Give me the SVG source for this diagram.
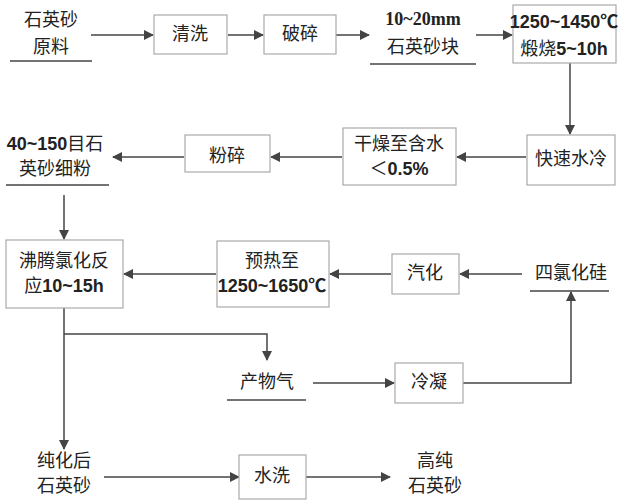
<svg xmlns="http://www.w3.org/2000/svg" width="633" height="500" viewBox="0 0 633 500">
<defs>
<marker id="a" markerWidth="10" markerHeight="10" refX="9" refY="5" orient="auto" markerUnits="userSpaceOnUse"><path d="M0,0 L10,5 L0,10 Z" fill="#444"/></marker>
<style>
.b{fill:#fff;stroke:#aaa;stroke-width:1.2}
.u{stroke:#444;stroke-width:1.5}
.c{fill:none;stroke:#444;stroke-width:1.5}
.arr{marker-end:url(#a)}
text{font-family:"Noto Sans CJK SC","Liberation Sans",sans-serif;font-size:18px;fill:#222;text-anchor:middle;dominant-baseline:middle}
.bd{font-family:"Liberation Sans","Noto Sans CJK SC",sans-serif;font-weight:bold}
</style>
</defs>
<rect width="633" height="500" fill="#fff"/>
<g id="connectors">
<line class="c arr" x1="91" y1="35" x2="153" y2="35"/>
<line class="c arr" x1="228" y1="35" x2="263" y2="35"/>
<line class="c arr" x1="336" y1="35" x2="369" y2="35"/>
<line class="c arr" x1="476" y1="35" x2="512" y2="35"/>
<line class="c arr" x1="570" y1="63" x2="570" y2="134"/>
<line class="c arr" x1="526" y1="157" x2="457" y2="157"/>
<line class="c arr" x1="342" y1="157" x2="271" y2="157"/>
<line class="c arr" x1="184" y1="157" x2="113" y2="157"/>
<line class="c arr" x1="64" y1="195" x2="64" y2="239"/>
<line class="c arr" x1="216" y1="274" x2="124" y2="274"/>
<line class="c arr" x1="391" y1="274" x2="330" y2="274"/>
<line class="c arr" x1="522" y1="274" x2="460" y2="274"/>
<line class="c arr" x1="64" y1="308" x2="64" y2="449"/>
<polyline class="c arr" points="64,334 267,334 267,360"/>
<line class="c arr" x1="313" y1="383" x2="394" y2="383"/>
<polyline class="c arr" points="463,383 571,383 571,292"/>
<line class="c arr" x1="104" y1="477" x2="239" y2="477"/>
<line class="c arr" x1="306" y1="477" x2="390" y2="477"/>
</g>
<g id="n1"><text x="51" y="21">石英砂</text><text x="51" y="48">原料</text><line class="u" x1="10" y1="61" x2="92" y2="61"/></g>
<g id="n2"><rect class="b" x="154" y="15" width="73" height="39"/><text x="190" y="35">清洗</text></g>
<g id="n3"><rect class="b" x="264" y="15" width="72" height="39"/><text x="300" y="35">破碎</text></g>
<g id="n4"><text x="423" y="21" class="bd" style="font-family:'Liberation Serif',serif">10~20mm</text><text x="423" y="48">石英砂块</text><line class="u" x1="370" y1="64" x2="476" y2="64"/></g>
<g id="n5"><rect class="b" x="513" y="5" width="103" height="58"/><text x="564" y="23" class="bd" font-size="17">1250~1450℃</text><text x="564" y="50">煅烧<tspan class="bd">5~10h</tspan></text></g>
<g id="n6"><rect class="b" x="527" y="135" width="88" height="50"/><text x="571" y="160">快速水冷</text></g>
<g id="n7"><rect class="b" x="343" y="128" width="113" height="57"/><text x="399" y="145">干燥至含水</text><text x="399" y="170">＜<tspan class="bd">0.5%</tspan></text></g>
<g id="n8"><rect class="b" x="185" y="135" width="85" height="37"/><text x="227" y="157">粉碎</text></g>
<g id="n9"><text x="55" y="145"><tspan class="bd">40~150</tspan>目石</text><text x="55" y="170">英砂细粉</text><line class="u" x1="6" y1="185" x2="109" y2="185"/></g>
<g id="n10"><rect class="b" x="6" y="240" width="117" height="68"/><text x="64" y="262">沸腾氯化反</text><text x="64" y="287">应<tspan class="bd">10~15h</tspan></text></g>
<g id="n11"><rect class="b" x="217" y="241" width="112" height="66"/><text x="272" y="262">预热至</text><text x="272" y="287" class="bd" font-size="17">1250~1650℃</text></g>
<g id="n12"><rect class="b" x="392" y="254" width="67" height="40"/><text x="425" y="274">汽化</text></g>
<g id="n13"><text x="571" y="274">四氯化硅</text><line class="u" x1="530" y1="291" x2="609" y2="291"/></g>
<g id="n14"><text x="267" y="383">产物气</text><line class="u" x1="227" y1="400" x2="306" y2="400"/></g>
<g id="n15"><rect class="b" x="395" y="363" width="68" height="40"/><text x="429" y="383">冷凝</text></g>
<g id="n16"><text x="64" y="462">纯化后</text><text x="64" y="487">石英砂</text></g>
<g id="n17"><rect class="b" x="239" y="455" width="67" height="44"/><text x="272" y="477">水洗</text></g>
<g id="n18"><text x="435" y="462">高纯</text><text x="435" y="487">石英砂</text></g>
</svg>
